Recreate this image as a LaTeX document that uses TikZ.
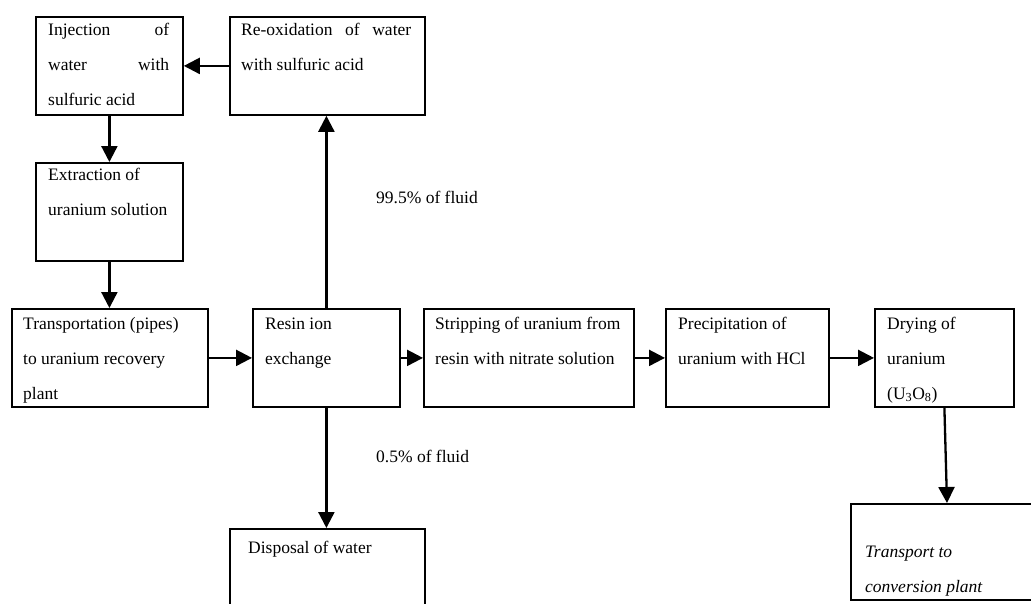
\documentclass[tikz,border=0pt]{standalone}
\usepackage{fontspec}
\setmainfont{Liberation Serif}
\usetikzlibrary{arrows.meta}
\newcommand\bxfont{\fontsize{17.5}{35}\selectfont}
\newcommand\lns[1]{\parbox[t]{300pt}{\raggedright #1}}
\begin{document}
\begin{tikzpicture}[x=1pt,y=-1pt,
  box/.style={draw, line width=1.8pt, inner sep=0pt, anchor=north west},
  txt/.style={anchor=base west, inner sep=0pt, font=\bxfont},
  arr/.style={line width=2.3pt, -{Triangle[length=16pt,width=16pt]}}]
\clip (0,0) rectangle (1031,603);
\fill[white] (0,0) rectangle (1031,603);
% boxes
\node[box, minimum width=147pt, minimum height=98pt] (inj)  at (35,16) {};
\node[box, minimum width=195pt, minimum height=98pt] (reox) at (229,16) {};
\node[box, minimum width=147pt, minimum height=98pt] (ext)  at (35,162) {};
\node[box, minimum width=196pt, minimum height=98pt] (trans) at (11,308) {};
\node[box, minimum width=147pt, minimum height=98pt] (resin) at (252,308) {};
\node[box, minimum width=210pt, minimum height=98pt] (strip) at (423,308) {};
\node[box, minimum width=163pt, minimum height=98pt] (prec) at (665,308) {};
\node[box, minimum width=139pt, minimum height=98pt] (dry)  at (874,308) {};
\node[box, minimum width=195pt, minimum height=110pt] (disp) at (229,528) {};
\node[box, minimum width=220pt, minimum height=96pt] (tc)   at (850,503) {};
% texts
\node[txt] (tinj) at (48,35) {\parbox[t]{121pt}{Injection\hfill of\\water\hfill with\\sulfuric acid}};
\node[txt] (treox) at (241,35) {\parbox[t]{170pt}{Re-oxidation\hfill of\hfill water\\with sulfuric acid}};
\node[txt] (text) at (48,180) {\lns{Extraction of\\uranium solution}};
\node[txt] (ttrans) at (23,329) {\lns{Transportation (pipes)\\to uranium recovery\\plant}};
\node[txt] (tresin) at (265,329) {\lns{Resin ion\\exchange}};
\node[txt] (tstrip) at (435,329) {\lns{Stripping of uranium from\\resin with nitrate solution}};
\node[txt] (tprec) at (678,329) {\lns{Precipitation of\\uranium with HCl}};
\node[txt] (tdry) at (887,329) {\lns{Drying of\\uranium\\(U\textsubscript{3}O\textsubscript{8})}};
\node[txt] (tdisp) at (248,553) {Disposal of water};
\node[txt] (ttc) at (865,557) {\lns{\itshape Transport to\\conversion plant}};
\node[txt] (l995) at (376,203) {99.5\% of fluid};
\node[txt] (l05) at (376,462) {0.5\% of fluid};
% connectors
\draw[arr] (reox.west) -- (inj.east);
\draw[arr] (inj.south) -- (ext.north);
\draw[arr] (ext.south) -- (ext.south |- trans.north);
\draw[arr] (trans.east) -- (resin.west);
\draw[arr] (resin.east) -- (strip.west);
\draw[arr] (strip.east) -- (prec.west);
\draw[arr] (prec.east) -- (dry.west);
\draw[arr] (resin.north) -- (resin.north |- reox.south);
\draw[arr] (resin.south) -- (resin.south |- disp.north);
\draw[arr] (dry.south) -- ([xshift=97pt]tc.north west);
\end{tikzpicture}
\end{document}
